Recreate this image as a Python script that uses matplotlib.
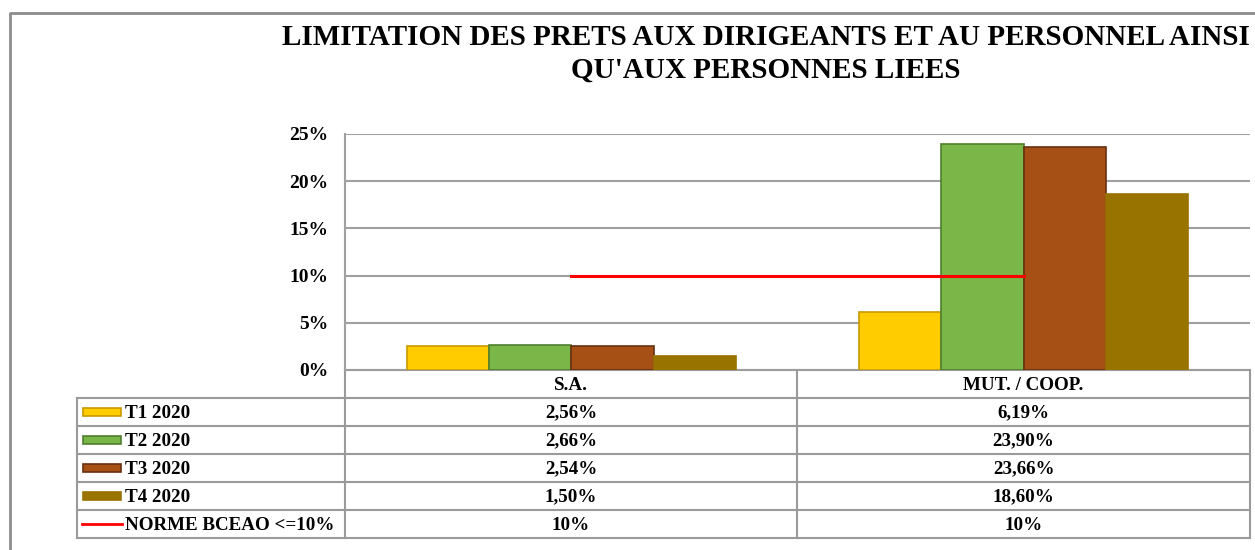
import matplotlib
matplotlib.use("Agg")
import matplotlib.pyplot as plt
import numpy as np
from matplotlib.ticker import FuncFormatter

# data
categories = ["S.A.", "MUT. / COOP."]
series_names = ["T1 2020", "T2 2020", "T3 2020", "T4 2020"]
t1_2020 = [2.56, 6.19]
t2_2020 = [2.66, 23.90]
t3_2020 = [2.54, 23.66]
t4_2020 = [1.50, 18.60]
norme_name = "NORME BCEAO <=10%"
norme = [10, 10]
title = "LIMITATION DES PRETS AUX DIRIGEANTS ET AU PERSONNEL AINSI\nQU'AUX PERSONNES LIEES"

series = [t1_2020, t2_2020, t3_2020, t4_2020]
faces = ["#FFCC00", "#7AB648", "#A65016", "#997300"]
edges = ["#C99A00", "#4F7F2E", "#6A3010", "#997300"]

plt.rcParams["font.family"] = ["Liberation Serif", "DejaVu Serif"]
plt.rcParams["font.weight"] = "bold"

W, H = 1255, 550
fig = plt.figure(figsize=(W / 100, H / 100), dpi=100)


def fx(px):
    return px / W


def fy(py):
    return 1 - py / H


# overlay in pixel coords for frame and table
over = fig.add_axes([0, 0, 1, 1])
over.set_xlim(0, W)
over.set_ylim(H, 0)
over.axis("off")

gray = "#8C8C8C"
over.plot([10, 10, W], [H, 13, 13], color=gray, lw=2)

# title
over.text(766, 54, title, ha="center", va="center", fontsize=21,
          fontweight="bold", linespacing=1.3)

# main chart
left, right, top, bottom = 345, 1250, 134, 370
ax = fig.add_axes([fx(left), fy(bottom), fx(right - left), (bottom - top) / H])
x = np.arange(len(categories))
w = 0.182
for i, vals in enumerate(series):
    ax.bar(x + (i - 1.5) * w, vals, w, color=faces[i], edgecolor=edges[i],
           linewidth=1.2, zorder=3)
ax.plot(x, norme, color="#FF0000", lw=2.2, zorder=4)

ax.set_xlim(-0.5, 1.5)
ax.set_ylim(0, 25)
ax.set_yticks([0, 5, 10, 15, 20, 25])
ax.yaxis.set_major_formatter(FuncFormatter(lambda v, p: f"{v:.0f}%"))
ax.tick_params(axis="y", length=0, pad=12, labelsize=14)
ax.set_xticks([])
ax.grid(axis="y", color="#A0A0A0", lw=1.5, zorder=0)
for s in ["top", "right", "bottom"]:
    ax.spines[s].set_visible(False)
ax.spines["left"].set_color("#A0A0A0")
ax.spines["left"].set_linewidth(1.5)
ax.patch.set_alpha(0)

# data table under the chart
tcol = [77, 345, 797, 1250]
hdr_top, row_top, row_h = 370, 398, 28
nrows = len(series) + 1
tb_bot = row_top + nrows * row_h
tlc = "#9A9A9A"
fs = 13.7
# horizontal lines
over.plot([345, 1250], [hdr_top, hdr_top], color=tlc, lw=1.5)
for r in range(nrows + 1):
    yy = row_top + r * row_h
    over.plot([77, 1250], [yy, yy], color=tlc, lw=1.5)
# vertical lines
over.plot([77, 77], [row_top, tb_bot], color=tlc, lw=1.5)
for xx in tcol[1:]:
    over.plot([xx, xx], [hdr_top, tb_bot], color=tlc, lw=1.5)

for j, cat in enumerate(categories):
    cx = (tcol[j + 1] + tcol[j + 2]) / 2
    over.text(cx, (hdr_top + row_top) / 2 + 1, cat, ha="center", va="center",
              fontsize=fs, fontweight="bold")

fmt = lambda v: f"{v:.2f}%".replace(".", ",")
rows = [(series_names[i], [fmt(v) for v in series[i]]) for i in range(4)]
rows.append((norme_name, [f"{v:.0f}%" for v in norme]))
for r, (name, cells) in enumerate(rows):
    cy = row_top + r * row_h + row_h / 2 + 1
    if r < 4:
        over.add_patch(plt.Rectangle((83, cy - 5), 38, 8, facecolor=faces[r],
                                     edgecolor=edges[r], lw=1.2))
    else:
        over.plot([82, 122], [cy - 1, cy - 1], color="#FF0000", lw=2)
    over.text(125, cy, name, ha="left", va="center", fontsize=fs,
              fontweight="bold")
    for j, c in enumerate(cells):
        cx = (tcol[j + 1] + tcol[j + 2]) / 2
        over.text(cx, cy, c, ha="center", va="center", fontsize=fs,
                  fontweight="bold")

fig.savefig("out.png", dpi=100)
